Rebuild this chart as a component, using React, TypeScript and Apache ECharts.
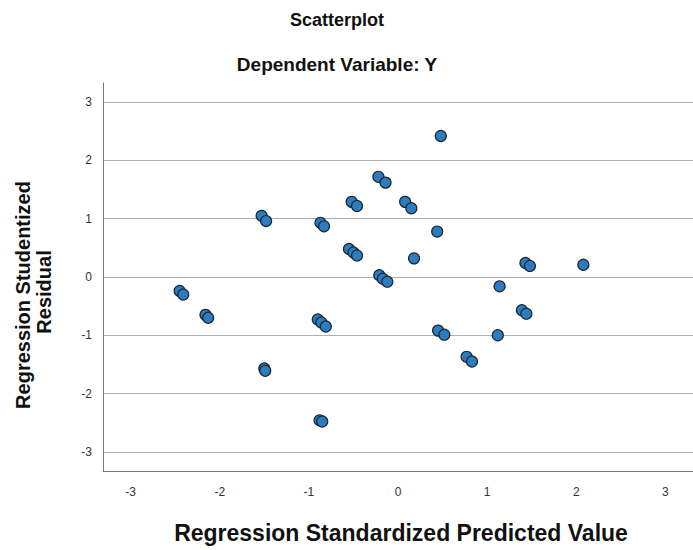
import React, { useEffect, useRef } from "react";
import * as echarts from "echarts";

const predicted: number[] = [
  0.48, -0.22, -0.14, -0.52, -0.46, 0.08, 0.15, -1.53, -1.48, -0.87, -0.83,
  0.44, -0.55, -0.5, -0.46, 0.18, -0.21, -0.17, -0.12, -2.45, -2.41, -2.16,
  -2.13, -0.9, -0.86, -0.81, -1.5, -1.49, -0.88, -0.85, 0.45, 0.52, 1.14,
  1.12, 0.77, 0.83, 1.39, 1.44, 1.43, 1.48, 2.08,
];
const residual: number[] = [
  2.42, 1.72, 1.62, 1.29, 1.22, 1.29, 1.18, 1.05, 0.96, 0.93, 0.87, 0.78,
  0.48, 0.42, 0.37, 0.32, 0.03, -0.03, -0.08, -0.24, -0.3, -0.65, -0.7,
  -0.73, -0.78, -0.85, -1.57, -1.61, -2.46, -2.48, -0.92, -0.99, -0.16,
  -1.0, -1.37, -1.45, -0.57, -0.63, 0.24, 0.19, 0.21,
];
const xTicks: number[] = [-3, -2, -1, 0, 1, 2, 3];
const yTicks: number[] = [-3, -2, -1, 0, 1, 2, 3];

const FONT = "'Liberation Sans', Arial, sans-serif";

export default function App() {
  const ref = useRef<HTMLDivElement>(null);
  useEffect(() => {
    if (!ref.current) return;
    const chart = echarts.init(ref.current, null, { renderer: "svg" });
    const data = predicted.map((x, i) => [x, residual[i]]);
    chart.setOption({
      animation: false,
      backgroundColor: "#ffffff",
      textStyle: { fontFamily: FONT },
      grid: { left: 103, right: 0, top: 83, bottom: 79, containLabel: false },
      xAxis: {
        type: "value",
        min: -3.31,
        max: 3.31,
        axisLine: {
          show: true,
          onZero: false,
          lineStyle: { color: "#7a7a7a", width: 1 },
        },
        axisTick: { show: false, customValues: xTicks },
        axisLabel: {
          customValues: xTicks,
          color: "#333333",
          fontSize: 12,
          fontFamily: FONT,
          margin: 15,
        },
        splitLine: { show: false },
      },
      yAxis: {
        type: "value",
        min: -3.33,
        max: 3.33,
        axisLine: {
          show: true,
          onZero: false,
          lineStyle: { color: "#7a7a7a", width: 1 },
        },
        axisTick: { show: false, customValues: yTicks },
        axisLabel: {
          customValues: yTicks,
          color: "#333333",
          fontSize: 12,
          fontFamily: FONT,
          margin: 11,
        },
        splitLine: { show: true, lineStyle: { color: "#b0b0b0", width: 1 } },
      },
      graphic: [
        {
          type: "text",
          x: 337,
          y: 20,
          style: {
            text: "Scatterplot",
            font: `bold 18px ${FONT}`,
            fill: "#111111",
            textAlign: "center",
            textVerticalAlign: "middle",
          },
        },
        {
          type: "text",
          x: 337,
          y: 64,
          style: {
            text: "Dependent Variable: Y",
            font: `bold 19px ${FONT}`,
            fill: "#111111",
            textAlign: "center",
            textVerticalAlign: "middle",
          },
        },
        {
          type: "text",
          x: 401,
          y: 533,
          style: {
            text: "Regression Standardized Predicted Value",
            font: `bold 23px ${FONT}`,
            fill: "#111111",
            textAlign: "center",
            textVerticalAlign: "middle",
          },
        },
        {
          type: "text",
          x: 23,
          y: 295,
          rotation: Math.PI / 2,
          style: {
            text: "Regression Studentized",
            font: `bold 20px ${FONT}`,
            fill: "#111111",
            textAlign: "center",
            textVerticalAlign: "middle",
          },
        },
        {
          type: "text",
          x: 44,
          y: 292,
          rotation: Math.PI / 2,
          style: {
            text: "Residual",
            font: `bold 20px ${FONT}`,
            fill: "#111111",
            textAlign: "center",
            textVerticalAlign: "middle",
          },
        },
      ],
      series: [
        {
          type: "scatter",
          data,
          symbol: "circle",
          symbolSize: 11,
          itemStyle: {
            color: "#2b7dbf",
            borderColor: "#1a2631",
            borderWidth: 1.2,
            opacity: 1,
          },
        },
      ],
    });
    return () => chart.dispose();
  }, []);
  return (
    <div
      ref={ref}
      style={{ position: "fixed", left: 0, top: 0, width: 693, height: 550 }}
    />
  );
}
